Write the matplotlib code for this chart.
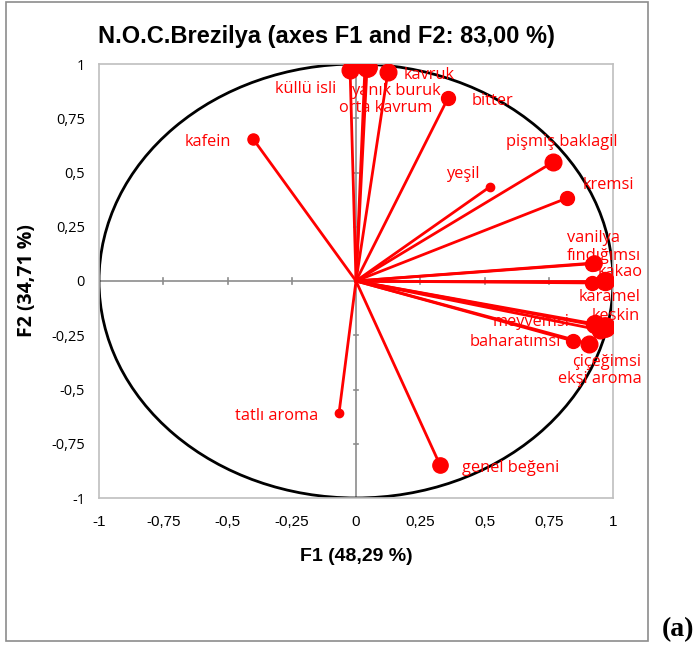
import matplotlib
matplotlib.use("Agg")
import matplotlib.pyplot as plt
import numpy as np
from matplotlib.patches import Ellipse, Rectangle

# variable loadings on F1 / F2
variables = ["küllü isli", "orta kavrum", "yanık buruk", "kavruk", "bitter", "kafein",
             "yeşil", "pişmiş baklagil", "kremsi", "vanilya", "fındığımsı", "kakao",
             "karamel", "keskin", "meyvemsi", "ekşi aroma", "baharatımsı", "çiçeğimsi",
             "tatlı aroma", "genel beğeni"]
f1 = [-0.023, 0.035, 0.043, 0.124, 0.358, -0.400,
      0.521, 0.767, 0.821, 0.920, 0.926, 0.969,
      0.918, 0.969, 0.930, 0.950, 0.845, 0.907,
      -0.066, 0.327]
f2 = [0.972, 0.990, 0.985, 0.963, 0.843, 0.654,
      0.434, 0.548, 0.382, 0.080, 0.083, 0.000,
      -0.009, -0.212, -0.198, -0.226, -0.276, -0.290,
      -0.608, -0.848]

ticks = [-1, -0.75, -0.5, -0.25, 0, 0.25, 0.5, 0.75, 1]
tick_labels = ["-1", "-0,75", "-0,5", "-0,25", "0", "0,25", "0,5", "0,75", "1"]

# styling: marker diameters (points) and label offsets (pixels, from the marker)
marker_size = [12, 12, 14, 12, 10, 8,
               6, 12, 10, 10, 11, 13,
               10, 14, 13, 12, 10, 12,
               6, 11]
label_off = {
    "küllü isli": (-44, -19), "orta kavrum": (21, -42), "yanık buruk": (29, -24),
    "kavruk": (41, -3), "bitter": (44, -3), "kafein": (-45, -3),
    "yeşil": (-27, 13), "pişmiş baklagil": (9, 20), "kremsi": (41, 13),
    "vanilya": (1, 26), "fındığımsı": (10, 7), "kakao": (15, 9),
    "karamel": (18, -14), "keskin": (11, 11), "meyvemsi": (-64, 2),
    "ekşi aroma": (0, -49), "baharatımsı": (-58, -1), "çiçeğimsi": (18, -18),
    "tatlı aroma": (-62, -3), "genel beğeni": (71, -3),
}

fig = plt.figure(figsize=(6.97, 6.53), dpi=100)
fig.patches.append(Rectangle((6 / 697, 1 - 641 / 653), 642 / 697, 639 / 653,
                             transform=fig.transFigure, fill=False,
                             edgecolor="#8c8c8c", linewidth=1.2))
ax = fig.add_axes([99 / 697, 1 - 498 / 653, 514 / 697, 434 / 653])

ax.set_xlim(-1, 1)
ax.set_ylim(-1, 1)
for s in ax.spines.values():
    s.set_color("#bfbfbf")
    s.set_linewidth(1.2)
ax.axhline(0, color="#8c8c8c", linewidth=1.2, zorder=1)
ax.axvline(0, color="#8c8c8c", linewidth=1.2, zorder=1)
# small tick marks on the zero lines, like excel
for t in ticks:
    ax.plot([t, t], [-0.012, 0.012], color="#8c8c8c", linewidth=1.2, zorder=1)
    ax.plot([-0.009, 0.009], [t, t], color="#8c8c8c", linewidth=1.2, zorder=1)

ax.add_patch(Ellipse((0, 0), 2, 2, fill=False, edgecolor="black", linewidth=2, zorder=2))

for name, x, y, ms in zip(variables, f1, f2, marker_size):
    ax.plot([0, x], [0, y], color="red", linewidth=2, zorder=3)
    ax.plot(x, y, "o", color="red", markersize=ms, zorder=4)
    ax.annotate(name, (x, y), xytext=label_off[name], textcoords="offset pixels",
                ha="center", va="center", color="red", fontsize=11.8,
                family=["Open Sans", "DejaVu Sans"], zorder=5)

ax.set_xticks(ticks)
ax.set_xticklabels(tick_labels, family=["Liberation Sans Narrow", "Liberation Sans"], fontsize=11)
ax.set_yticks(ticks)
ax.set_yticklabels(tick_labels, family=["Open Sans", "DejaVu Sans"], fontsize=10.5)
ax.tick_params(length=0, pad=12)
ax.tick_params(axis="y", pad=10)

fig.text(326 / 697, 1 - 36 / 653, "N.O.C.Brezilya (axes F1 and F2: 83,00 %)",
         fontsize=17, fontweight="bold", ha="center", va="center",
         family=["Liberation Sans Narrow", "Liberation Sans"])
ax.set_xlabel("F1 (48,29 %)", fontsize=14, fontweight="bold",
              family=["Liberation Sans Narrow", "Liberation Sans"], labelpad=14)
ax.set_ylabel("F2 (34,71 %)", fontsize=14, fontweight="bold",
              family=["Open Sans", "DejaVu Sans"], labelpad=10)

fig.text(678 / 697, 1 - 630 / 653, "(a)", fontsize=20, fontweight="bold",
         family=["Liberation Serif", "DejaVu Serif"], ha="center", va="center")

fig.savefig("out.png", dpi=100)
